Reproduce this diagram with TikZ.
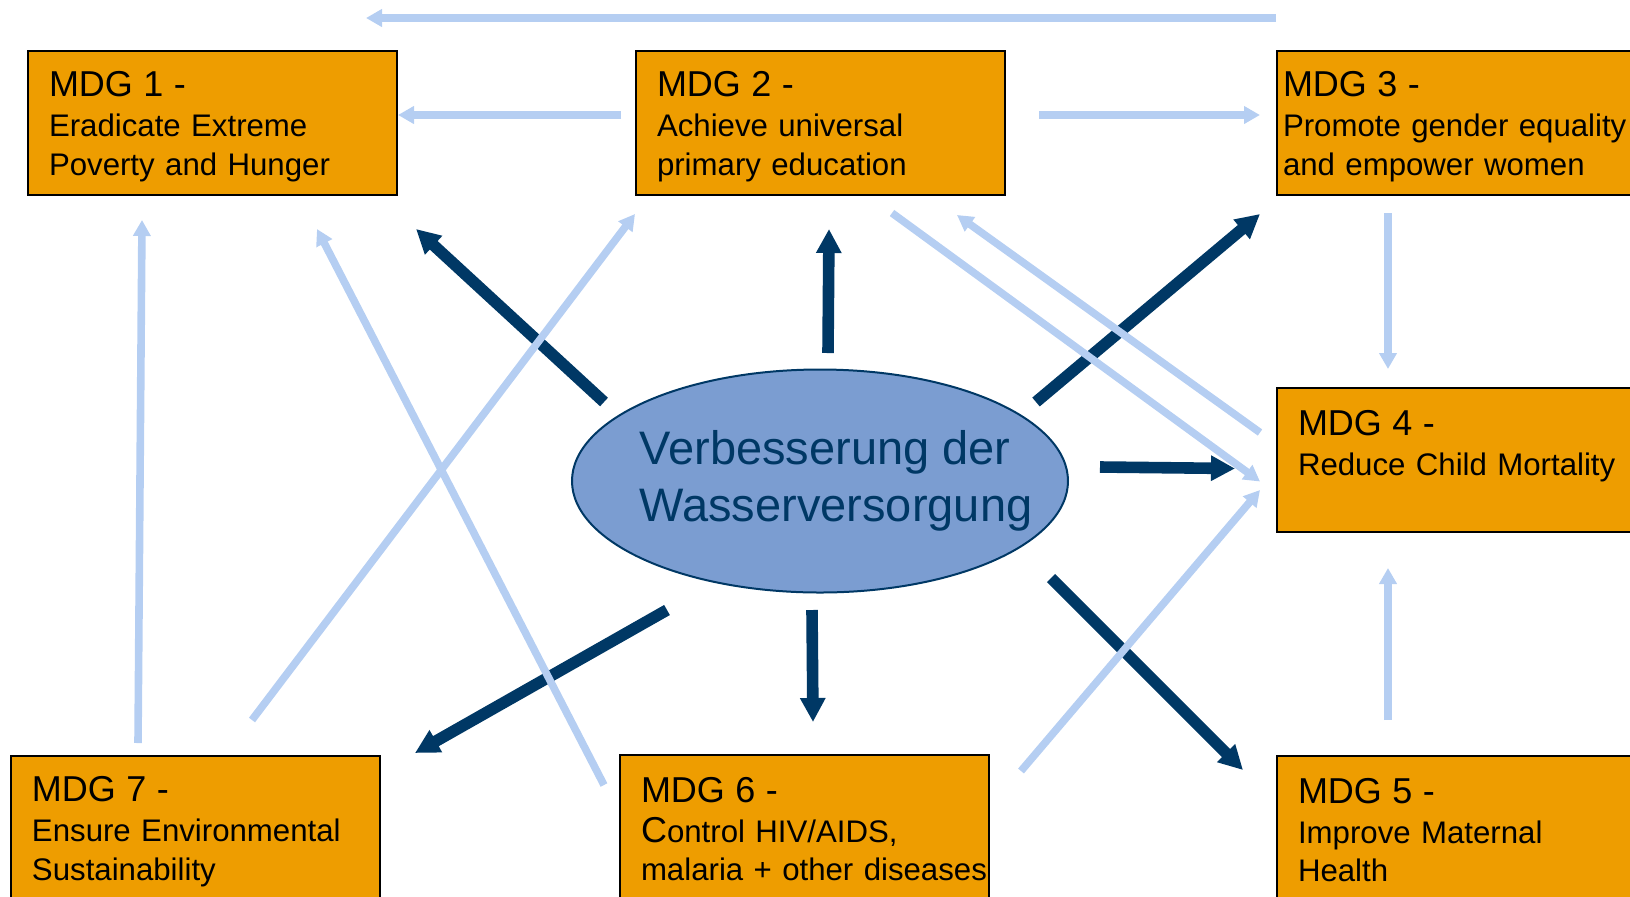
\documentclass[tikz,border=0pt]{standalone}
\usepackage{fontspec}
\setmainfont{Liberation Sans}
\usetikzlibrary{arrows.meta,calc,shapes.geometric}
\definecolor{mdgorange}{RGB}{238,157,0}
\definecolor{litearrow}{RGB}{181,206,242}
\definecolor{darkarrow}{RGB}{0,56,101}
\definecolor{wvfill}{RGB}{123,157,209}
\newcommand{\mdgtitle}{\fontsize{18}{20}\selectfont}
\newcommand{\mdgsub}{\fontsize{15.6}{19.3}\selectfont}
\newcommand{\wvfont}{\fontsize{23.5}{28.5}\selectfont}
\newcommand{\topstrut}{\rule{0pt}{16pt}}
\newcommand{\botstrut}{\rule[-1.7pt]{0pt}{1.7pt}}
\tikzset{
  mdg/.style={draw=black, line width=1pt, fill=mdgorange, anchor=north west,
    minimum width=184.5pt, minimum height=72pt, inner xsep=10.5pt, inner ysep=0pt,
    text width=163.5pt, align=left, font=\mdgsub},
  wvbox/.style={ellipse, draw=darkarrow, line width=1pt, fill=wvfill,
    minimum width=248pt, minimum height=111.5pt, inner sep=-40pt,
    align=left, text=darkarrow, font=\wvfont},
  lite/.style={draw=litearrow, line width=3.8pt, -{Triangle[length=8pt,width=8.5pt]}},
  dark/.style={draw=darkarrow, line width=5.8pt, -{Triangle[length=12pt,width=12pt]}},
}
\begin{document}
\begin{tikzpicture}[x=0.5pt,y=-0.5pt]
\useasboundingbox (0,0) rectangle (1630,896);
\clip (0,0) rectangle (1630,896);
\node[mdg] (m1) at (27,50) {\topstrut{\mdgtitle MDG 1 -}\\[0.7pt]Eradicate Extreme\\Poverty and Hunger\botstrut};
\node[mdg] (m2) at (635,50) {\topstrut{\mdgtitle MDG 2 -}\\[0.7pt]Achieve universal\\primary education\botstrut};
\node[mdg, inner xsep=3pt, text width=178.5pt] (m3) at (1276,50) {\topstrut{\mdgtitle MDG 3 -}\\[0.7pt]Promote gender equality\\and empower women\botstrut};
\node[mdg] (m4) at (1276,387) {\topstrut{\mdgtitle MDG 4 -}\\[0.7pt]Reduce Child Mortality\\ \botstrut};
\node[mdg] (m5) at (1276,755) {\topstrut{\mdgtitle MDG 5 -}\\[0.7pt]Improve Maternal\\Health\botstrut};
\node[mdg] (m6) at (619,754) {\topstrut{\mdgtitle MDG 6 -}\\[0.7pt]{\mdgtitle C}ontrol HIV/AIDS,\\\makebox[\linewidth][l]{malaria + other diseases}\botstrut};
\node[mdg] (m7) at (10,755) {\topstrut{\mdgtitle MDG 7 -}\\[0.7pt]Ensure Environmental\\Sustainability\botstrut};
\node[wvbox] (wv) at (820,481) {\hspace*{16pt}Verbesserung der\\\hspace*{16pt}Wasserversorgung};

\draw[dark] ($(wv)+(-216,-79)$) -- ($(m1.south east)+(18,33)$);
\draw[dark] ($(wv)+(8,-128)$) -- ($(m2.south)+(8.5,33)$);
\draw[dark] ($(wv)+(216,-79)$) -- ($(m3.south west)+(-16,18)$);
\draw[dark] ($(wv)+(280,-14)$) -- ($(m4.west)+(-41,8.5)$);
\draw[dark] ($(wv)+(231,97)$) -- ($(m5.north west)+(-33,15)$);
\draw[dark] ($(wv)+(-8,129)$) -- ($(m6.north)+(8.5,-32)$);
\draw[dark] ($(wv)+(-153,129)$) -- ($(m7.north east)+(34,-2)$);

\draw[lite] ($(m3.north west)+(0,-32)$) -- ($(m1.north east)+(-32,-32)$);
\draw[lite] ($(m2.west)+(-14,-8)$) -- ($(m1.east)+(0,-8)$);
\draw[lite] ($(m2.east)+(33,-8)$) -- ($(m3.west)+(-16,-8)$);
\draw[lite] ($(m3.south west)+(112,17)$) -- ($(m4.north west)+(112,-18)$);
\draw[lite] ($(m5.north west)+(112,-35)$) -- ($(m4.south west)+(112,35)$);
\draw[lite] ($(m6.north east)+(31,17)$) -- ($(m4.west)+(-16,30)$);
\draw[lite] ($(m2.south)+(71.5,17)$) -- ($(m4.west)+(-16,21.5)$);
\draw[lite] ($(m4.west)+(-16,-27.5)$) -- ($(m2.south)+(136.5,19)$);
\draw[lite] ($(m7.north west)+(128,-12)$) -- ($(m1.south west)+(115,24)$);
\draw[lite] ($(m7.north west)+(242,-35)$) -- ($(m2.south west)+(0,18)$);
\draw[lite] ($(m6.north west)+(-15,31)$) -- ($(m1.south west)+(290,33)$);
\end{tikzpicture}
\end{document}
